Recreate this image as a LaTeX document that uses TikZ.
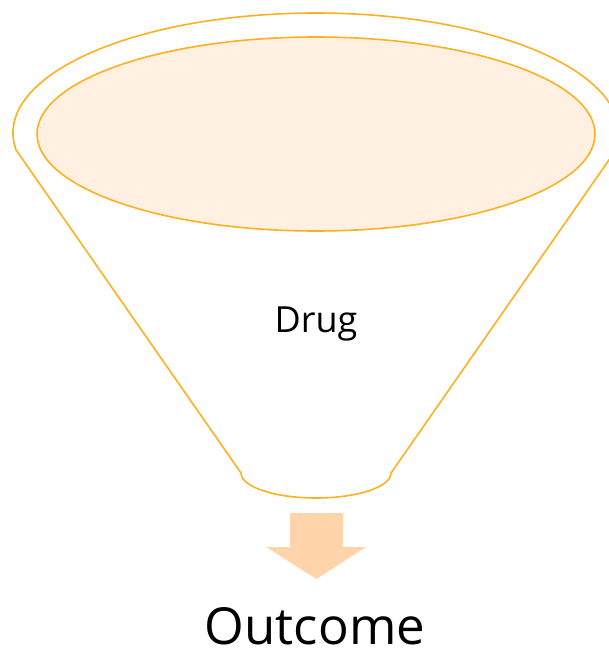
\documentclass[tikz,border=0pt]{standalone}
\usepackage{fontspec}
\setmainfont{Open Sans}
\definecolor{funnelline}{HTML}{FFB020}
\definecolor{funnelfill}{HTML}{FFF0E1}
\definecolor{arrowfill}{HTML}{FFD4AA}
\tikzset{
  funnelstroke/.style={draw=funnelline, line width=1.6pt},
  label/.style={inner sep=0pt, anchor=base, text=black},
}
\begin{document}
\begin{tikzpicture}[x=1pt,y=-1pt]
\useasboundingbox (0,0) rectangle (609,655);
% outer funnel
\draw[funnelstroke, fill=white]
  (316,133) ++(171.9:303 and 120) arc[start angle=171.9, end angle=368.1, x radius=303, y radius=120]
  -- (391,473)
  arc[start angle=0, end angle=180, x radius=75, y radius=25]
  -- cycle;
% inner ellipse
\draw[funnelstroke, fill=funnelfill] (316,134) ellipse[x radius=279, y radius=97];
% arrow
\fill[arrowfill] (290,513) -- (343,513) -- (343,547) -- (366,547) -- (316.5,579) -- (266,547) -- (290,547) -- cycle;
% texts
\node[label, font=\fontsize{36}{42}\selectfont] (drug) at (316,332) {Drug};
\node[label, font=\fontsize{51}{60}\selectfont] (outcome) at (315,644) {Outcome};
\end{tikzpicture}
\end{document}
